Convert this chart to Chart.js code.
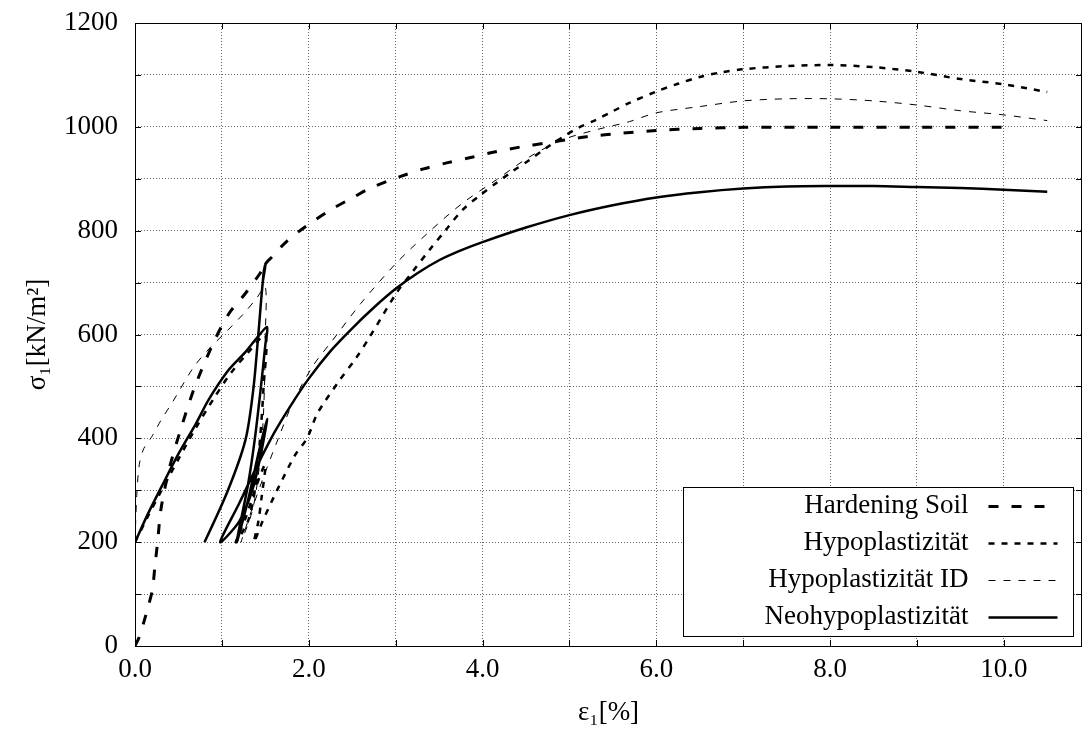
<!DOCTYPE html>
<html>
<head>
<meta charset="utf-8">
<script src="https://cdn.jsdelivr.net/npm/chart.js@4"></script>
<style>
  html, body { margin: 0; padding: 0; background: #fff; }
  #wrap { width: 1084px; height: 729px; }
</style>
</head>
<body>
<div id="wrap"><canvas id="stressChart"></canvas></div>
<script>
// values: strain in %, stress in kN/m2
const hsStrain = [0, 0.05, 0.1, 0.15, 0.2, 0.23, 0.26, 0.3, 0.4, 0.52, 0.69, 0.9, 1.08, 1.27, 1.44, 1.5,
  1.47, 1.42, 1.36, 1.27, 1.07, 0.8,
  1.07, 1.27, 1.36, 1.42, 1.47, 1.5,
  1.58, 1.75, 1.98, 2.25, 2.5, 2.71, 3.05, 3.32, 3.6, 3.89, 4.15, 4.43, 4.74, 5.2, 5.62, 6.0, 6.5, 7.0, 8.0, 9.0, 10.0];
const hsStress = [0, 18, 45, 75, 108, 155, 200, 265, 345, 414, 500, 583, 640, 679, 718, 735,
  700, 601, 492, 396, 300, 200,
  300, 396, 492, 601, 700, 735,
  750, 780, 810, 840, 863, 882, 904, 919, 931, 942, 952, 961, 969, 981, 988, 993, 997, 999, 999, 999, 999];
// index range of the unload/reload loop in the Hardening Soil path (overlapping, looks solid)
const hsLoop = [15, 27];

const hypoStrain = [0, 0.15, 0.3, 0.5, 0.7, 0.9, 1.1, 1.3, 1.5,
  1.48, 1.44, 1.38, 1.3, 1.16,
  1.28, 1.4, 1.5,
  1.46, 1.42, 1.37,
  1.47, 1.65, 1.84, 1.98, 2.1, 2.33, 2.55, 2.7, 3.01, 3.2, 3.39, 3.58, 3.77, 3.97, 4.16, 4.35, 4.54, 4.73, 4.92, 5.1, 5.3, 5.5, 5.69,
  6.0, 6.25, 6.5, 6.75, 7.0, 7.5, 8.0, 8.5, 9.0, 9.5, 10.0, 10.5];
const hypoStress = [200, 250, 298, 360, 420, 475, 525, 565, 598,
  500, 400, 300, 240, 200,
  250, 310, 350,
  290, 240, 200,
  241, 305, 367, 400, 448, 506, 556, 595, 680, 722, 763, 802, 840, 868, 892, 915, 936, 959, 980, 998, 1013, 1030, 1046,
  1068, 1083, 1096, 1105, 1111, 1117, 1119, 1115, 1106, 1092, 1082, 1067];

const hypoIdStrain = [0, 0.02, 0.05, 0.1, 0.2, 0.3, 0.44, 0.67, 0.85, 1.06, 1.25, 1.4, 1.5,
  1.5, 1.49, 1.47, 1.42, 1.35, 1.22,
  1.35, 1.5, 1.65, 1.82, 2.05, 2.27, 2.6, 3.01, 3.4, 3.77, 4.16, 4.54, 4.92, 5.3, 5.69,
  6.0, 6.5, 7.0, 7.5, 8.0, 8.5, 9.0, 9.5, 10.0, 10.5];
const hypoIdStress = [200, 290, 350, 380, 405, 435, 472, 536, 572, 607, 640, 670, 692,
  600, 500, 420, 330, 260, 200,
  265, 335, 400, 470, 540, 588, 660, 738, 800, 853, 898, 942, 975, 994, 1010,
  1027, 1039, 1050, 1054, 1054, 1050, 1042, 1031, 1023, 1012];

const neoStrain = [0, 0.15, 0.3, 0.5, 0.7, 0.85, 1.07, 1.27, 1.42, 1.52,
  1.5, 1.45, 1.38, 1.3, 1.17,
  1.3, 1.42, 1.52,
  1.45, 1.35, 1.2, 0.98,
  1.2, 1.4, 1.6, 1.8, 2.0, 2.25, 2.5, 2.75, 3.0, 3.25, 3.5, 3.75, 4.0, 4.5, 5.0, 5.5,
  6.0, 6.5, 7.0, 7.5, 8.0, 8.5, 9.0, 9.5, 10.0, 10.5];
const neoStress = [200, 255, 305, 370, 428, 475, 530, 566, 597, 614,
  580, 500, 400, 310, 200,
  280, 370, 437,
  370, 300, 240, 200,
  275, 345, 410, 465, 515, 568, 612, 652, 688, 718, 743, 762, 778, 806, 830, 849,
  864, 874, 881, 885, 886, 886, 884, 882, 879, 875];

const seriesNames = ["Hardening Soil", "Hypoplastizität", "Hypoplastizität ID", "Neohypoplastizität"];

const FONT = "'Liberation Serif', 'DejaVu Serif', serif";

function toPoints(xs, ys) {
  return xs.map((x, i) => ({ x: x, y: ys[i] }));
}

function lineSet(label, xs, ys, width, dash) {
  return {
    label: label,
    data: toPoints(xs, ys),
    borderColor: "#000",
    borderWidth: width,
    borderDash: dash,
    pointRadius: 0,
    tension: 0.3,
    fill: false
  };
}

// frame + inward tick marks like gnuplot
const framePlugin = {
  id: "frame",
  afterDatasetsDraw(chart) {
    const ctx = chart.ctx;
    const a = chart.chartArea;
    const xs = chart.scales.x, ys = chart.scales.y;
    ctx.save();
    ctx.strokeStyle = "#000";
    ctx.lineWidth = 1;
    ctx.setLineDash([]);
    ctx.beginPath();
    xs.ticks.forEach(t => {
      const px = Math.round(xs.getPixelForValue(t.value)) + 0.5;
      ctx.moveTo(px, a.bottom); ctx.lineTo(px, a.bottom - 6);
      ctx.moveTo(px, a.top); ctx.lineTo(px, a.top + 6);
    });
    ys.ticks.forEach(t => {
      const py = Math.round(ys.getPixelForValue(t.value)) + 0.5;
      ctx.moveTo(a.left, py); ctx.lineTo(a.left + 6, py);
      ctx.moveTo(a.right, py); ctx.lineTo(a.right - 6, py);
    });
    ctx.stroke();
    ctx.strokeRect(Math.round(a.left) + 0.5, Math.round(a.top) + 0.5,
      Math.round(a.right - a.left) - 1, Math.round(a.bottom - a.top));
    ctx.restore();
  }
};

// legend box in lower right, text right-aligned with line sample after it
const keyPlugin = {
  id: "key",
  afterDraw(chart) {
    const ctx = chart.ctx;
    const a = chart.chartArea;
    const w = 390, h = 149;
    const left = Math.round(a.right - 9 - w) + 0.5;
    const top = Math.round(a.bottom - 10 - h) + 0.5;
    ctx.save();
    ctx.fillStyle = "#fff";
    ctx.fillRect(left, top, w, h);
    ctx.strokeStyle = "#000";
    ctx.lineWidth = 1;
    ctx.setLineDash([]);
    ctx.strokeRect(left, top, w, h);
    ctx.font = "27px " + FONT;
    ctx.textAlign = "right";
    ctx.textBaseline = "middle";
    chart.data.datasets.forEach((ds, i) => {
      const cy = top + 18 + i * 37.3;
      ctx.fillStyle = "#000";
      ctx.fillText(ds.label, left + 285, cy);
      ctx.beginPath();
      ctx.lineWidth = ds.borderWidth;
      ctx.setLineDash(ds.borderDash || []);
      ctx.moveTo(left + 305, Math.round(cy) + 0.5);
      ctx.lineTo(left + 374, Math.round(cy) + 0.5);
      ctx.stroke();
    });
    ctx.restore();
  }
};

const hsSet = lineSet(seriesNames[0], hsStrain, hsStress, 3, [10, 13]);
hsSet.segment = {
  borderDash: c => (c.p0DataIndex >= hsLoop[0] && c.p1DataIndex <= hsLoop[1] ? [] : undefined),
  borderWidth: c => (c.p0DataIndex >= hsLoop[0] && c.p1DataIndex <= hsLoop[1] ? 2.5 : undefined)
};

const ctx = document.getElementById("stressChart");
new Chart(ctx, {
  type: "line",
  data: {
    datasets: [
      hsSet,
      lineSet(seriesNames[1], hypoStrain, hypoStress, 2.5, [6, 7]),
      lineSet(seriesNames[2], hypoIdStrain, hypoIdStress, 1, [7, 8]),
      lineSet(seriesNames[3], neoStrain, neoStress, 2.5, [])
    ]
  },
  options: {
    responsive: true,
    maintainAspectRatio: false,
    animation: false,
    devicePixelRatio: 1,
    layout: { padding: { top: 23, right: 2, left: 0, bottom: 0 } },
    plugins: {
      legend: { display: false },
      tooltip: { enabled: false }
    },
    scales: {
      x: {
        type: "linear",
        min: 0,
        max: 10.9,
        afterFit: s => { s.height = 83; s.paddingLeft = 0; s.paddingRight = 0; },
        ticks: {
          stepSize: 1,
          includeBounds: false,
          autoSkip: false,
          maxRotation: 0,
          padding: 8,
          color: "#000",
          font: { family: FONT, size: 27 },
          callback: v => (Math.abs(v % 2) < 1e-9 ? v.toFixed(1) : "")
        },
        grid: { color: "#666", lineWidth: 1, drawTicks: false },
        border: { display: false, dash: [1, 2] },
        title: {
          display: true,
          text: "ε₁[%]",
          color: "#000",
          font: { family: FONT, size: 27 },
          padding: { top: 1, bottom: 0 }
        }
      },
      y: {
        min: 0,
        max: 1200,
        afterFit: s => { s.width = 135; s.paddingTop = 0; s.paddingBottom = 0; },
        ticks: {
          stepSize: 100,
          padding: 17,
          color: "#000",
          font: { family: FONT, size: 27 },
          callback: v => (v % 200 === 0 ? v : "")
        },
        grid: { color: "#666", lineWidth: 1, drawTicks: false },
        border: { display: false, dash: [1, 2] },
        title: {
          display: true,
          text: "σ₁[kN/m²]",
          color: "#000",
          font: { family: FONT, size: 27 },
          padding: { top: 22, bottom: 0 }
        }
      }
    }
  },
  plugins: [framePlugin, keyPlugin]
});
</script>
</body>
</html>
